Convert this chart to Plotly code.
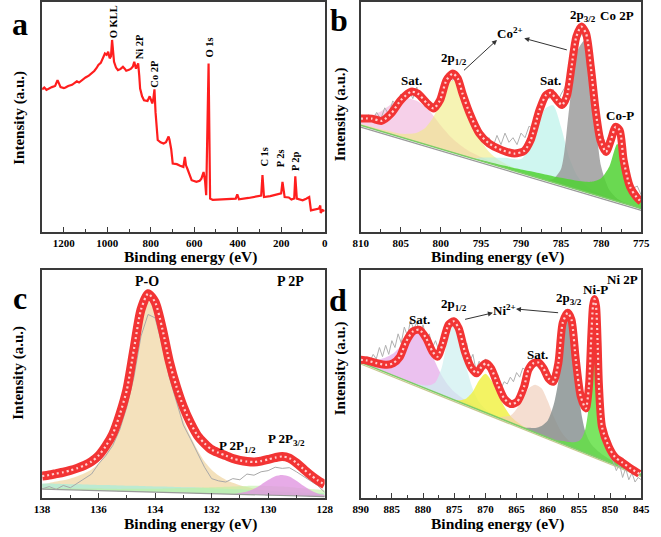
import numpy as np
import plotly.graph_objects as go

FONT = "Liberation Serif, Times New Roman, serif"
W, H = 661, 537

# ---------------- Panel a: survey spectrum ----------------
a_energy = [1300, 1290, 1280, 1267, 1255, 1240, 1229, 1222, 1215, 1200,
            1192, 1180, 1162, 1150, 1140, 1130, 1116, 1100, 1085, 1071,
            1060, 1050, 1041, 1030, 1020, 1011, 1003, 996, 989, 983,
            978, 973, 969, 960, 951, 940, 928, 920, 913, 900,
            891, 882, 876, 868, 862, 858, 853, 849, 840, 831,
            815, 805, 801, 793, 788, 783, 778, 774, 768, 755,
            741, 730, 723, 718, 714, 706, 699, 680, 665, 650,
            643, 638, 632, 620, 612, 590, 575, 567, 557, 550,
            545, 534, 527, 515, 500, 450, 409, 402, 394, 350,
            304, 292, 286, 279, 250, 214, 200, 194, 184, 165,
            153, 140, 135, 128, 115, 101, 85, 71, 63, 45,
            26, 20, 18, 10, 0]
a_intensity = [62, 62.8, 61.8, 62.5, 63, 63.5, 66, 64.5, 63, 62.6,
               62.8, 63.5, 64, 64.8, 65.5, 65, 66.2, 67.2, 68, 69,
               70, 71.2, 72.6, 73.5, 75.5, 77.6, 77, 78.4, 75.5, 76.5,
               83.5, 78, 74, 71.5, 70.4, 70.8, 71.8, 71, 70.1, 70.5,
               71, 72, 74, 71, 72.5, 73.3, 68, 62.4, 59, 57.3,
               57, 59, 58, 55.9, 58, 62, 52, 45.7, 40, 39,
               38.5, 39, 40.6, 41.5, 40.2, 36, 29.8, 29.5, 28.8, 28.3,
               32.7, 29, 27.6, 24, 22.5, 21.8, 22.3, 23.2, 26.1, 22,
               16, 73.3, 14.5, 14, 14.1, 14.3, 14.5, 16.4, 14.2, 14.8,
               15.5, 15.8, 24.7, 15.2, 15.6, 16.4, 16.8, 21.8, 15.2, 15,
               14.1, 14.6, 24.2, 14.5, 14.3, 13.8, 14.5, 15.2, 9.4, 9.8,
               10.2, 11.5, 8.3, 9.5, 9.1]
a_labels = ["O KLL", "Ni 2P", "Co 2P", "O 1s", "C 1s", "P 2s", "P 2p"]
a_label_e = [973, 853, 782, 530, 281, 199, 131]
a_label_y = [91.3, 80.4, 68.7, 80.4, 32.6, 32.2, 30.9]

# ---------------- Panel b: Co 2p ----------------
b_grid = list(range(810, 774, -1))          # 810 ... 775 eV
b_base_e = [775, 810]
b_base_y = [10.2, 46.4]
b_base2_y = [9.4, 45.6]
b_sat1 = [3.4, 5, 7.2, 10.2, 13.8, 16.5, 17.9, 17.9, 16.5, 13.8,
          10.2, 7.2, 5, 3.4, 2.4, 1.7, 1.2, 0.9, 0.6, 0.4,
          0.3, 0, 0, 0, 0, 0, 0, 0, 0, 0,
          0, 0, 0, 0, 0, 0]
b_p12 = [0.6, 0.7, 0.8, 1, 1.2, 1.5, 2.5, 4, 7, 12.5,
         21, 30, 32, 25, 15.5, 9, 5, 3, 2, 1.3,
         0.8, 0.5, 0.3, 0, 0, 0, 0, 0, 0, 0,
         0, 0, 0, 0, 0, 0]
b_sat2 = [0, 0, 0, 0, 0, 0, 0, 0, 0, 0,
          0, 0, 0, 0, 0, 1.5, 2.5, 3.5, 4.5, 5,
          6, 11, 22, 31, 33.5, 25, 13, 6, 3, 1.5,
          0.8, 0.5, 0.3, 0.2, 0.1, 0]
b_p32 = [0, 0, 0, 0, 0, 0, 0, 0, 0, 0,
         0, 0, 0, 0, 0, 0, 0, 0, 0, 0,
         0, 0, 0, 0, 1.5, 7, 34, 60, 66, 42,
         13, 4, 1.2, 0.4, 0.1, 0]
b_cop = [0, 0, 0, 0, 0, 0, 0, 0, 0, 0,
         0, 0, 0, 0, 0, 0.4, 0.6, 0.8, 1, 1.2,
         1.5, 1.8, 2.1, 2.4, 2.7, 3, 3.4, 3.8, 4.4, 5.5,
         8, 14, 25, 13, 6, 3.5]
b_env_e = [810, 808.6, 807.4, 806.2, 805, 803.7, 802.9, 801.7, 800.9, 800.1,
           799.3, 798.5, 797.9, 797.3, 796.4, 795.2, 794, 792.4, 790.8, 789.6,
           788.8, 787.7, 786.9, 786.3, 785.5, 784.9, 784.3, 783.7, 783.1, 782.5,
           781.9, 781.3, 780.7, 780.1, 779.4, 778.8, 778.2, 777.7, 777.2, 776.4,
           775.6, 775]
b_env_y = [49.3, 49.3, 48.3, 51.5, 57.3, 61, 60.2, 55.9, 53.7, 57.3,
           66, 68.9, 66.8, 60.2, 51.5, 42.8, 38.5, 35.6, 34.1, 35.3,
           39.9, 53, 59.5, 60.5, 57.3, 55.2, 58.8, 71.8, 84.9, 89.3,
           86.4, 71.8, 53, 39.9, 34.8, 39.9, 45.7, 44.3, 31.2, 19.6,
           15.2, 13.1]
b_raw_e = np.arange(810, 774.9, -0.5)
b_raw_y = [50, 48, 51, 49, 52, 49, 54, 51, 57, 55,
           60, 57, 62, 58, 63, 57, 59, 54, 56, 55,
           60, 63, 67, 66, 69, 63, 61, 52, 50, 43,
           44, 38, 41, 37, 42, 38, 43, 39, 41, 38,
           43, 41, 46, 45, 52, 55, 61, 58, 62, 56,
           60, 63, 70, 74, 82, 86, 84, 75, 62, 50,
           44, 38, 42, 41, 44, 36, 30, 24, 19, 20,
           16]

# ---------------- Panel c: P 2p ----------------
c_grid = np.arange(138, 127.99, -0.25)      # 138 ... 128 eV
c_base_e = [128, 138]
c_base_y = [0.6, 3.9]
c_env = [9.6, 10.1, 10.7, 11.3, 12.1, 13.1, 14.3, 16.0,
         18.6, 22.7, 28.0, 36.6, 47.5, 65.2, 82.6, 89.6,
         85.9, 74.5, 60.1, 49.0, 40.0, 33.0, 27.4, 23.9,
         21.2, 19.8, 18.6, 17.3, 16.5, 16.0, 15.8, 16.2,
         16.9, 17.7, 18.2, 17.5, 15.4, 12.7, 10.1, 7.8,
         5.9]
c_raw = [4.0, 5.0, 3.8, 5.5, 4.5, 6.5, 8.5, 10.5,
         15.0, 18.5, 23.0, 30.0, 40.0, 53.0, 71.0, 80.5,
         79.0, 67.0, 53.0, 42.0, 32.0, 26.0, 20.0, 13.5,
         8.5, 7.5, 7.0, 8.5, 8.0, 10.5, 10.0, 11.5,
         12.0, 13.5, 13.0, 13.3, 11.5, 9.5, 7.5, 5.5,
         2.5]
c_po = [2.2, 2.8, 3.5, 4.1, 5.0, 6.1, 7.4, 9.2,
        11.9, 16.0, 21.4, 30.1, 41.1, 58.9, 76.4, 83.5,
        79.8, 68.5, 54.2, 42.0, 32.0, 25.0, 19.0, 14.0,
        10.5, 8.0, 6.3, 5.0, 4.0, 3.3, 2.7, 2.3,
        2.0, 1.7, 1.5, 1.3, 1.1, 1.0, 0.9, 0.8,
        0.7]
c_band = [2.5, 2.5, 2.5, 2.5, 2.5, 2.5, 2.5, 2.5,
          2.5, 2.5, 2.5, 2.5, 2.5, 2.5, 2.5, 2.5,
          2.5, 2.5, 2.5, 2.5, 2.5, 2.5, 2.5, 2.4,
          2.4, 2.3, 2.3, 2.2, 2.2, 2.1, 2.0, 2.0,
          1.9, 1.8, 1.8, 1.7, 1.6, 1.6, 1.5, 1.5,
          1.4]
c_p12 = [0.5, 0.5, 0.6, 0.6, 0.7, 0.7, 0.8, 0.8,
         0.9, 0.9, 1.0, 1.0, 1.1, 1.2, 1.3, 1.4,
         1.5, 1.6, 1.7, 1.9, 2.0, 2.2, 2.4, 2.6,
         2.8, 3.0, 3.2, 3.4, 3.6, 3.8, 3.9, 4.0,
         4.0, 4.0, 3.9, 3.8, 3.6, 3.4, 3.2, 3.0,
         2.8]
c_p32 = [0, 0, 0, 0, 0, 0, 0, 0,
         0, 0, 0, 0, 0, 0, 0, 0,
         0, 0, 0, 0, 0, 0, 0, 0,
         0, 0, 0, 0, 0.6, 1.3, 2.6, 4.5,
         6.6, 8.4, 9.0, 8.4, 6.6, 4.5, 2.6, 1.3,
         0.6]

# ---------------- Panel d: Ni 2p ----------------
d_grid = [890, 889, 888, 887, 886, 885, 884, 883, 882, 881,
          880, 879, 878, 877, 876, 875, 874, 873, 872, 871,
          870, 869, 868, 867, 866, 865, 864, 863, 862, 861,
          860, 859, 858, 857.5, 857, 856.5, 856, 855.5, 855, 854.5,
          854, 853.5, 853.25, 853, 852.75, 852.5, 852.25, 852, 851.75, 851.5,
          851, 850.5, 850, 849, 848, 847, 846, 845]
d_base_e = [845, 890]
d_base_y = [10.0, 59.5]
d_base2_y = [9.3, 58.8]
d_sat1 = [1.5, 2.2, 3.2, 4.6, 6.5, 9, 12.5, 17, 21.5, 23.6,
          22.6, 18.5, 13, 8.5, 5.5, 3.6, 2.5, 1.7, 1.2, 0.8,
          0.6, 0.4, 0.3, 0.2, 0, 0, 0, 0, 0, 0,
          0, 0, 0, 0, 0, 0, 0, 0, 0, 0,
          0, 0, 0, 0, 0, 0, 0, 0, 0, 0,
          0, 0, 0, 0, 0, 0, 0, 0]
d_p12 = [0, 0, 0, 0, 0, 0, 0, 0, 0, 0.5,
         1, 2, 4.5, 12, 26, 33.4, 27, 16, 8, 3.5,
         1.5, 0.7, 0.3, 0, 0, 0, 0, 0, 0, 0,
         0, 0, 0, 0, 0, 0, 0, 0, 0, 0,
         0, 0, 0, 0, 0, 0, 0, 0, 0, 0,
         0, 0, 0, 0, 0, 0, 0, 0]
d_mid = [0, 0, 0, 0, 0, 0, 0, 0, 0, 0,
         0, 0, 0, 0, 0, 0, 1, 3, 7, 13,
         17, 15, 11, 6, 3, 1.5, 0.7, 0.3, 0, 0,
         0, 0, 0, 0, 0, 0, 0, 0, 0, 0,
         0, 0, 0, 0, 0, 0, 0, 0, 0, 0,
         0, 0, 0, 0, 0, 0, 0, 0]
d_sat2 = [0, 0, 0, 0, 0, 0, 0, 0, 0, 0,
          0, 0, 0, 0, 0, 0, 0, 0, 0, 0,
          0, 0, 0, 1.5, 3, 7, 13, 18.5, 21, 20.5,
          16, 10, 5.5, 4, 3, 2.2, 1.6, 1.2, 0.9, 0.7,
          0.5, 0.4, 0.3, 0.3, 0, 0, 0, 0, 0, 0,
          0, 0, 0, 0, 0, 0, 0, 0]
d_p32 = [0, 0, 0, 0, 0, 0, 0, 0, 0, 0,
         0, 0, 0, 0, 0, 0, 0, 0, 0, 0,
         0, 0, 0, 0, 0, 0, 0, 1, 2, 4,
         7.5, 16, 32, 46, 55, 57, 50, 36, 24, 15,
         9.5, 6.5, 5.5, 4.8, 4.2, 3.8, 3.4, 3, 2.7, 2.5,
         2, 1.7, 1.4, 1, 0.7, 0.5, 0.3, 0.2]
d_nip = [0, 0, 0, 0, 0, 0, 0, 0, 0, 0,
         0, 0, 0, 0, 0, 0, 0, 0, 0, 0,
         0, 0, 0, 0, 0, 0, 0, 0, 0, 0,
         0, 0, 0.8, 1.2, 1.5, 1.9, 2.3, 3, 4, 6,
         10, 19, 30, 46, 60, 65, 60, 46, 30, 18,
         9, 5.5, 4, 2.4, 1.6, 1.1, 0.8, 0.6]
d_env_e = [890, 889, 887.4, 885.8, 884.8, 883.7, 882.7, 881.6, 880.6, 879.5,
           878.5, 877.7, 876.9, 875.9, 875.1, 874.3, 873.3, 872.2, 871.4, 870.6,
           869.9, 869.1, 868, 867, 865.9, 864.9, 863.8, 863.1, 862.3, 861.5,
           860.7, 859.9, 859.1, 858.3, 857.6, 856.8, 856.2, 855.5, 854.7, 853.9,
           853.4, 853.0, 852.75, 852.5, 852.25, 852.0, 851.8, 851.3, 850.2, 849.2,
           848.1, 846.6, 845.3]
d_env_y = [60.6, 60.3, 59.1, 58.4, 59.1, 62, 68.7, 73.1, 73.8, 70.1,
           64.3, 62, 67.2, 76, 77.5, 74.6, 64.3, 56.9, 54.7, 57.6,
           59.1, 56.9, 49.6, 43.7, 41.2, 42.2, 48.8, 56.2, 59.1, 59.4,
           56.9, 52.5, 51, 59.1, 76.8, 81.2, 78.2, 60.6, 44.4, 39.3,
           48.8, 72, 84, 87.3, 84, 68, 50, 31.2, 22.4, 17.9,
           15.7, 12.8, 10.6]
d_raw_e = np.arange(890, 844.9, -0.5)
d_raw_y = [61, 59, 62, 60, 63, 61, 66, 62, 67, 63,
           69, 66, 72, 68, 75, 71, 78, 74, 77, 72,
           76, 70, 72, 66, 69, 65, 70, 73, 77, 75,
           78, 72, 74, 66, 68, 60, 63, 56, 60, 57,
           61, 56, 59, 52, 54, 48, 51, 50, 53, 51,
           55, 53, 57, 56, 59, 58, 60, 57, 58, 54,
           56, 52, 56, 60, 66, 74, 78, 76, 72, 60,
           50, 42, 40, 46, 68, 82, 60, 34, 26, 22,
           18, 16, 12, 15, 9, 13, 8, 11, 7, 9,
           8]

ENV_COLOR = "#f23434"
fig = go.Figure()


def add_component(x, h, base_e, base_y, color, ax):
    x = np.asarray(x, float)
    h = np.asarray(h, float)
    base = np.interp(x, base_e, base_y)
    xs = np.concatenate([x, x[::-1]])
    ys = np.concatenate([base + h, base[::-1]])
    fig.add_trace(go.Scatter(x=xs, y=ys, fill="toself", fillcolor=color, mode="lines",
                             line=dict(width=0, shape="spline", smoothing=0.7),
                             xaxis="x" + ax, yaxis="y" + ax, hoverinfo="skip",
                             showlegend=False))


def add_line(x, y, color, width, ax, shape="linear", dash="solid"):
    fig.add_trace(go.Scatter(x=x, y=y, mode="lines",
                             line=dict(color=color, width=width, shape=shape,
                                       smoothing=0.7, dash=dash),
                             xaxis="x" + ax, yaxis="y" + ax, showlegend=False,
                             hoverinfo="skip"))


def add_envelope(x, y, ax, width=8):
    add_line(x, y, ENV_COLOR, width, ax, shape="spline")
    add_line(x, y, "rgba(255,215,215,0.95)", 2.2, ax, shape="spline", dash="2px,3px")


# panel a
add_line(a_energy, a_intensity, "#ff1e1e", 2.2, "")

# panel b
for comp, col in [(b_sat1, "rgba(238,170,215,0.55)"), (b_p12, "rgba(240,235,130,0.6)"),
                  (b_sat2, "rgba(175,240,230,0.6)"), (b_p32, "rgba(150,150,150,0.8)"),
                  (b_cop, "rgba(80,210,50,0.85)")]:
    add_component(b_grid, comp, b_base_e, b_base_y, col, "2")
add_line(b_base_e, b_base2_y, "#9a9a9a", 1.2, "2")
add_line(b_base_e, b_base_y, "#7ccc66", 1.5, "2")
add_line(b_raw_e, b_raw_y, "#b0b0b0", 1, "2")
add_envelope(b_env_e, b_env_y, "2")

# panel c
for comp, col in [(c_po, "rgba(240,215,165,0.75)"), (c_band, "rgba(150,240,225,0.6)"),
                  (c_p12, "rgba(190,240,160,0.6)"), (c_p32, "rgba(225,150,225,0.8)")]:
    add_component(c_grid, comp, c_base_e, c_base_y, col, "3")
add_line(c_base_e, c_base_y, "#9a9a9a", 1.2, "3")
add_line(c_grid, c_raw, "#a8a8a8", 1, "3")
add_envelope(c_grid, c_env, "3", width=9)

# panel d
for comp, col in [(d_sat1, "rgba(225,160,230,0.65)"), (d_p12, "rgba(205,240,240,0.7)"),
                  (d_mid, "rgba(240,240,60,0.8)"), (d_sat2, "rgba(240,205,185,0.65)"),
                  (d_p32, "rgba(130,140,140,0.8)"), (d_nip, "rgba(100,225,70,0.85)")]:
    add_component(d_grid, comp, d_base_e, d_base_y, col, "4")
add_line(d_base_e, d_base2_y, "#c8c890", 1.2, "4")
add_line(d_base_e, d_base_y, "#7ccc66", 1.5, "4")
add_line(d_raw_e, d_raw_y, "#b0b0b0", 1, "4")
add_envelope(d_env_e, d_env_y, "4")


def px(p):
    return p / W


def py(p):
    return 1 - p / H


axis_common = dict(showline=True, mirror=True, linecolor="#3a3a3a", linewidth=1.5,
                   showgrid=False, zeroline=False)
tickfont = dict(family=FONT, size=11, color="black", weight="bold")


def xaxis(domain, rng, dtick, minor, anchor):
    return dict(domain=domain, range=rng, anchor=anchor, dtick=dtick, tick0=0,
                ticks="inside", ticklen=5, tickwidth=1.2, tickcolor="#3a3a3a",
                minor=dict(dtick=minor, tick0=0, ticks="inside", ticklen=3,
                           tickwidth=1, tickcolor="#3a3a3a"),
                tickfont=tickfont, **axis_common)


def yaxis(domain, rng, anchor):
    return dict(domain=domain, range=rng, anchor=anchor, showticklabels=False,
                ticks="", **axis_common)


top_y = [py(232), py(2)]
bot_y = [py(498), py(270)]
left_x = [px(35), px(325)]
right_x = [px(362), px(650)]

fig.update_layout(
    width=W, height=H, margin=dict(l=0, r=0, t=0, b=0),
    paper_bgcolor="white", plot_bgcolor="white", showlegend=False,
    hovermode=False,
    xaxis=xaxis(left_x, [1300, 0], 200, 100, "y"),
    yaxis=yaxis(top_y, [0, 100], "x"),
    xaxis2=xaxis(right_x, [810, 775], 5, 2.5, "y2"),
    yaxis2=yaxis(top_y, [0, 100], "x2"),
    xaxis3=xaxis(left_x, [138, 128], 2, 1, "y3"),
    yaxis3=yaxis(bot_y, [0, 100], "x3"),
    xaxis4=xaxis(right_x, [890, 845], 5, 2.5, "y4"),
    yaxis4=yaxis(bot_y, [0, 100], "x4"),
)

ann = []


def text(x, y, t, size, ax=None, angle=0, weight="bold", yanchor="middle"):
    d = dict(x=x, y=y, text=t, showarrow=False, textangle=angle,
             font=dict(family=FONT, size=size, color="black", weight=weight),
             xanchor="center", yanchor=yanchor)
    if ax is None:
        d.update(xref="paper", yref="paper")
    else:
        d.update(xref="x" + ax, yref="y" + ax)
    ann.append(d)


def arrow(x0, y0, x1, y1, ax):
    ann.append(dict(x=x1, y=y1, ax=x0, ay=y0, xref="x" + ax, yref="y" + ax,
                    axref="x" + ax, ayref="y" + ax, text="", showarrow=True,
                    arrowhead=2, arrowsize=1, arrowwidth=1, arrowcolor="#333"))


# panel letters
text(px(12), py(4), "a", 32, yanchor="top")
text(px(340), py(0), "b", 32, yanchor="top")
text(px(12), py(278), "c", 32, yanchor="top")
text(px(339), py(280), "d", 32, yanchor="top")

# axis titles
for xc, yc in [(187, 257), (502, 257), (187, 524), (502, 524)]:
    text(px(xc), py(yc), "Binding energy (eV)", 15.5)
for xc, yc in [(11, 118), (341, 114), (10, 373), (341, 368)]:
    text(px(xc), py(yc), "Intensity (a.u.)", 15, angle=-90)

# panel a peak labels
for e, y, t in zip(a_label_e, a_label_y, a_labels):
    text(e, y, t, 10.5, ax="", angle=-90)

# panel b labels
text(803.6, 66, "Sat.", 13, ax="2")
text(798.3, 75.5, "2p<sub>1/2</sub>", 13, ax="2")
text(791.4, 86.4, "Co<sup>2+</sup>", 13, ax="2")
text(786.3, 66, "Sat.", 13, ax="2")
text(782.3, 94, "2p<sub>3/2</sub>", 13, ax="2")
text(778.0, 94, "Co 2P", 13, ax="2")
text(777.6, 50.8, "Co-P", 13, ax="2")
arrow(797.3, 69.7, 793.0, 83.5, "2")
arrow(784.1, 79.0, 789.6, 84.2, "2")

# panel c labels
text(134.3, 95, "P-O", 14, ax="3")
text(129.2, 95, "P 2P", 14, ax="3")
text(131.1, 22.5, "P 2P<sub>1/2</sub>", 13, ax="3")
text(129.35, 25.5, "P 2P<sub>3/2</sub>", 13, ax="3")

# panel d labels
text(880.6, 78.2, "Sat.", 13, ax="4")
text(875.1, 84.9, "2p<sub>1/2</sub>", 13, ax="4")
text(867.0, 82.6, "Ni<sup>2+</sup>", 13, ax="4")
text(861.7, 62.8, "Sat.", 13, ax="4")
text(856.6, 87.5, "2p<sub>3/2</sub>", 13, ax="4")
text(852.3, 91.5, "Ni-P", 13, ax="4")
text(848.0, 96, "Ni 2P", 13, ax="4")
arrow(873.5, 78.2, 868.8, 81.2, "4")
arrow(858.1, 81.2, 865.1, 82.9, "4")

fig.update_layout(annotations=ann)
fig.write_html("out.html", config={"displayModeBar": False},
               post_script="document.body.style.margin='0px';"
                           "document.body.style.overflow='hidden';")
